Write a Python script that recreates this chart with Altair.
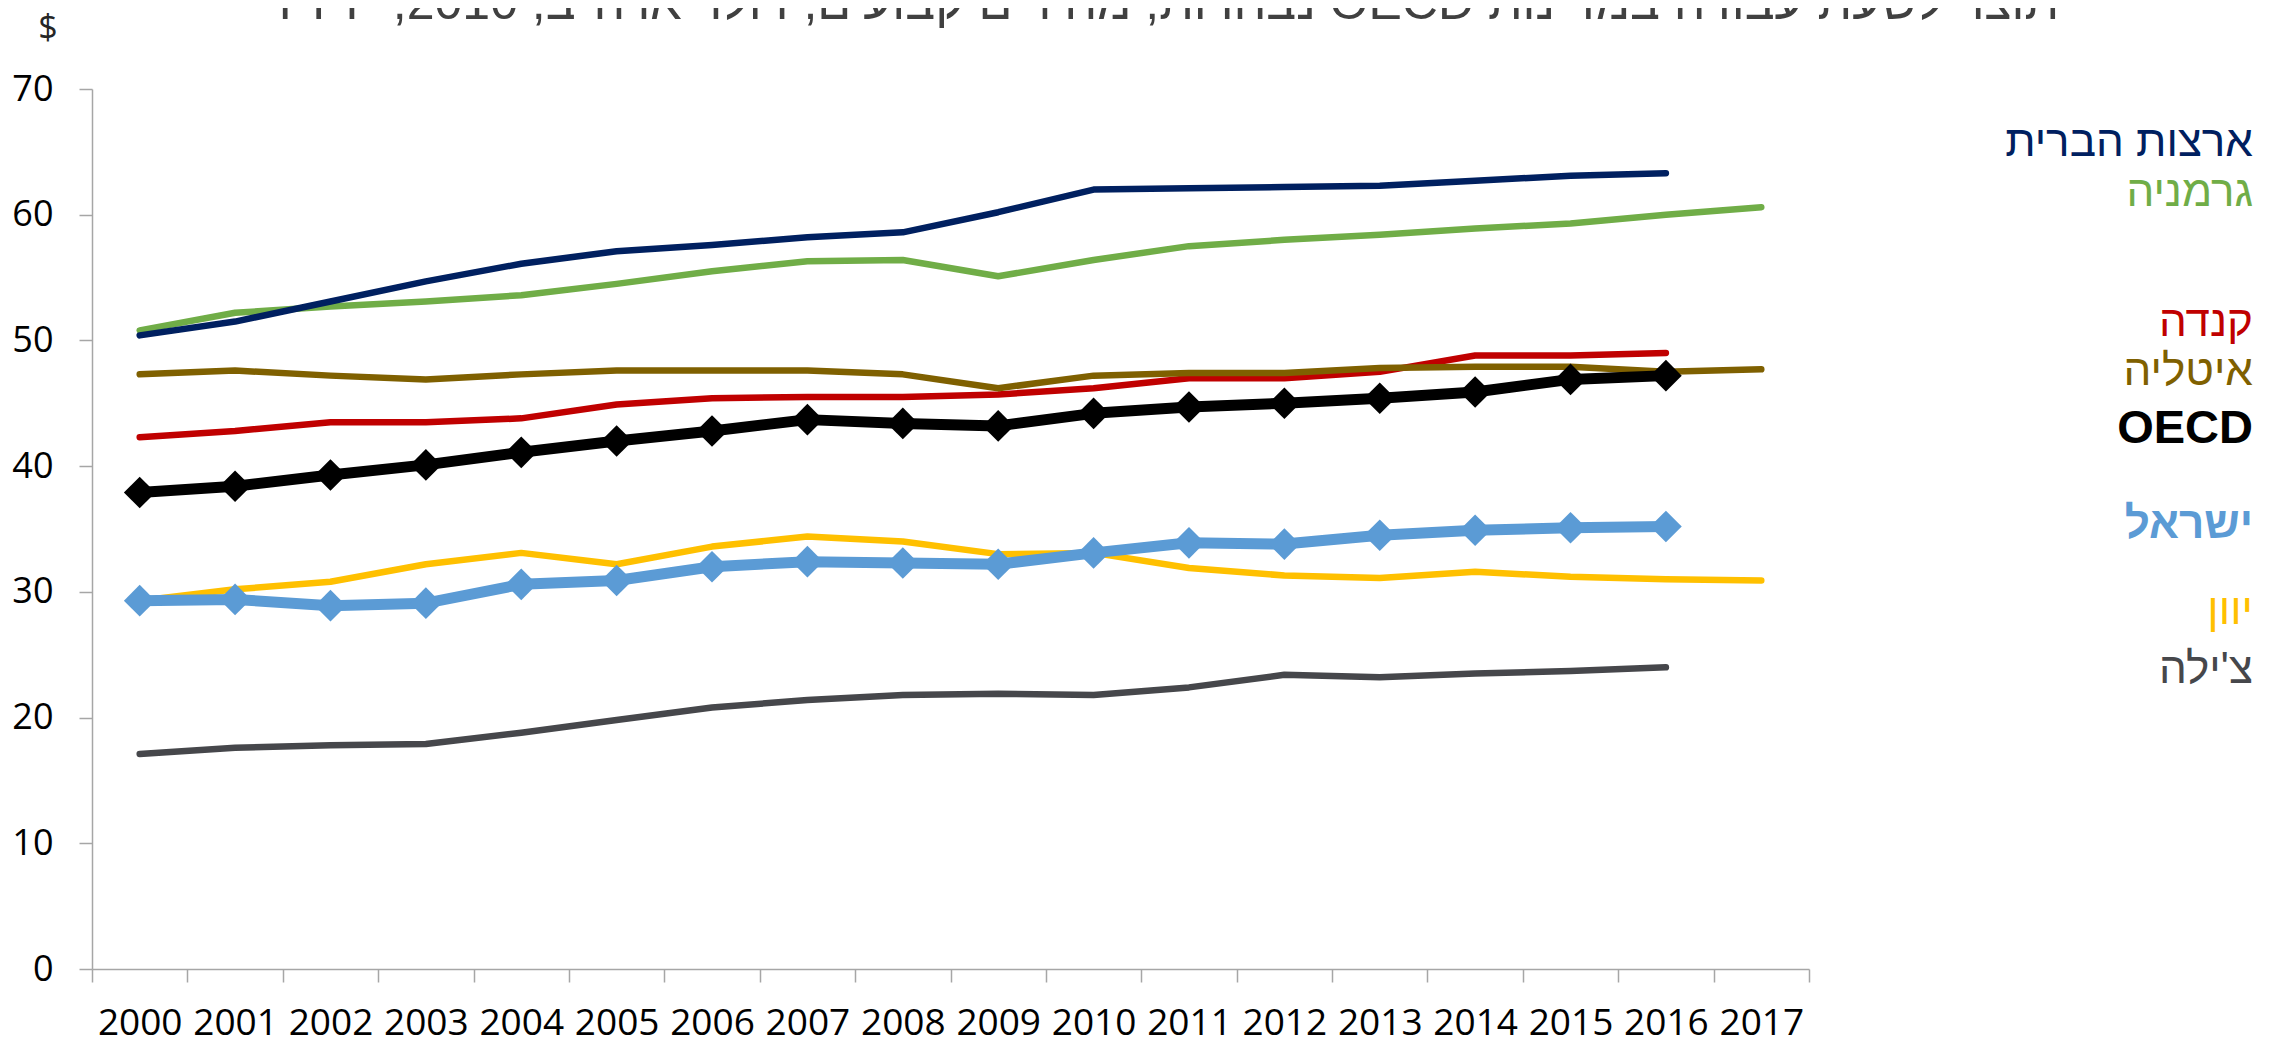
import altair as alt
import pandas as pd

YEARS = list(range(2000, 2018))
USA = [50.4, 51.5, 53.1, 54.7, 56.1, 57.1, 57.6, 58.2, 58.6, 60.2, 62.0, 62.1, 62.2, 62.3, 62.7, 63.1, 63.3, None]
GERMANY = [50.8, 52.2, 52.7, 53.1, 53.6, 54.5, 55.5, 56.3, 56.4, 55.1, 56.4, 57.5, 58.0, 58.4, 58.9, 59.3, 60.0, 60.6]
CANADA = [42.3, 42.8, 43.5, 43.5, 43.8, 44.9, 45.4, 45.5, 45.5, 45.7, 46.2, 47.0, 47.0, 47.5, 48.8, 48.8, 49.0, None]
ITALY = [47.3, 47.6, 47.2, 46.9, 47.3, 47.6, 47.6, 47.6, 47.3, 46.2, 47.2, 47.4, 47.4, 47.8, 47.9, 47.9, 47.5, 47.7]
OECD = [37.9, 38.4, 39.3, 40.1, 41.1, 42.0, 42.8, 43.7, 43.4, 43.2, 44.2, 44.7, 45.0, 45.4, 45.9, 46.9, 47.2, None]
ISRAEL = [29.3, 29.4, 28.9, 29.1, 30.6, 30.9, 32.0, 32.4, 32.3, 32.2, 33.1, 33.9, 33.8, 34.5, 34.9, 35.1, 35.2, None]
GREECE = [29.3, 30.2, 30.8, 32.2, 33.1, 32.2, 33.6, 34.4, 34.0, 33.0, 33.1, 31.9, 31.3, 31.1, 31.6, 31.2, 31.0, 30.9]
CHILE = [17.1, 17.6, 17.8, 17.9, 18.8, 19.8, 20.8, 21.4, 21.8, 21.9, 21.8, 22.4, 23.4, 23.2, 23.5, 23.7, 24.0, None]

NAMES = ["ארצות הברית", "גרמניה", "קנדה", "איטליה", "OECD", "ישראל", "יוון", "צ'ילה"]
SERIES = [USA, GERMANY, CANADA, ITALY, OECD, ISRAEL, GREECE, CHILE]
COLORS = ["#002060", "#70AD47", "#C00000", "#7F6000", "#000000", "#5B9BD5", "#FFC000", "#46474B"]
TITLE = "תוצר לשעת עבודה במדינות OECD נבחרות, מחירים קבועים, דולר ארה\"ב, 2010, PPP"
Y_TICKS = [0, 10, 20, 30, 40, 50, 60, 70]

# layout (pixels, plot coordinates)
W, H = 1717, 880
TOP = 81
LABEL_X = 2161
LABEL_Y = [67, 117, 247, 296, 354, 449, 535, 594]
LABEL_SIZE = [44, 44, 44, 44, 47, 44, 44, 44]
BOLD = [False, False, False, False, True, True, False, False]
THICK = [False, False, False, False, True, True, False, False]
DRAW_ORDER = [7, 6, 2, 3, 1, 0, 5, 4]

AX = "#A6A6A6"
x_enc = alt.X(
    "year:O",
    scale=alt.Scale(type="band", paddingInner=0, paddingOuter=0),
    axis=alt.Axis(
        title=None, tickBand="extent", labelAngle=0, labelFont="Open Sans",
        labelFontSize=37, labelColor="#000000", tickSize=13, labelPadding=23,
        domainColor=AX, tickColor=AX, domainWidth=1.5, tickWidth=1.5, grid=False,
    ),
)
y_enc = alt.Y(
    "value:Q",
    scale=alt.Scale(domain=[0, 70], nice=False, zero=True),
    axis=alt.Axis(
        title=None, values=Y_TICKS, labelFont="Open Sans", labelFontSize=36,
        labelColor="#000000", tickSize=13, labelPadding=26,
        domainColor=AX, tickColor=AX, domainWidth=1.5, tickWidth=1.5, grid=False,
    ),
)

layers = []
for i in DRAW_ORDER:
    df = pd.DataFrame({"year": YEARS, "value": SERIES[i]}).dropna()
    base = alt.Chart(df).encode(x=x_enc, y=y_enc)
    sw = 11 if THICK[i] else 6.5
    layers.append(base.mark_line(color=COLORS[i], strokeWidth=sw, strokeCap="round", strokeJoin="round"))
    if THICK[i]:
        layers.append(base.mark_point(shape="diamond", filled=True, size=1000, opacity=1, color=COLORS[i]))

for i, name in enumerate(NAMES):
    tdf = pd.DataFrame({"t": [name]})
    layers.append(
        alt.Chart(tdf).mark_text(
            align="right", baseline="alphabetic", font="Liberation Sans", fontSize=LABEL_SIZE[i],
            fontWeight="bold" if BOLD[i] else "normal", color=COLORS[i],
        ).encode(text="t:N", x=alt.value(LABEL_X), y=alt.value(LABEL_Y[i]))
    )

layers.append(
    alt.Chart(pd.DataFrame({"t": ["$"]})).mark_text(
        align="center", baseline="middle", font="Open Sans", fontSize=34, color="#262626"
    ).encode(text="t:N", x=alt.value(-44), y=alt.value(-60))
)
layers.append(
    alt.Chart(pd.DataFrame({"t": ["\u202B" + TITLE + "\u202C"]})).mark_text(
        align="center", baseline="alphabetic", font="Liberation Sans", fontSize=50, color="#404040"
    ).encode(text="t:N", x=alt.value(1077), y=alt.value(-70))
)

chart = alt.layer(*layers).properties(
    width=W, height=H,
    autosize=alt.AutoSizeParams(type="none"),
    padding={"left": 84, "top": TOP, "right": 467, "bottom": 69},
).configure_view(stroke=None)

chart.save("out.html", embed_options={"renderer": "svg", "actions": False})
